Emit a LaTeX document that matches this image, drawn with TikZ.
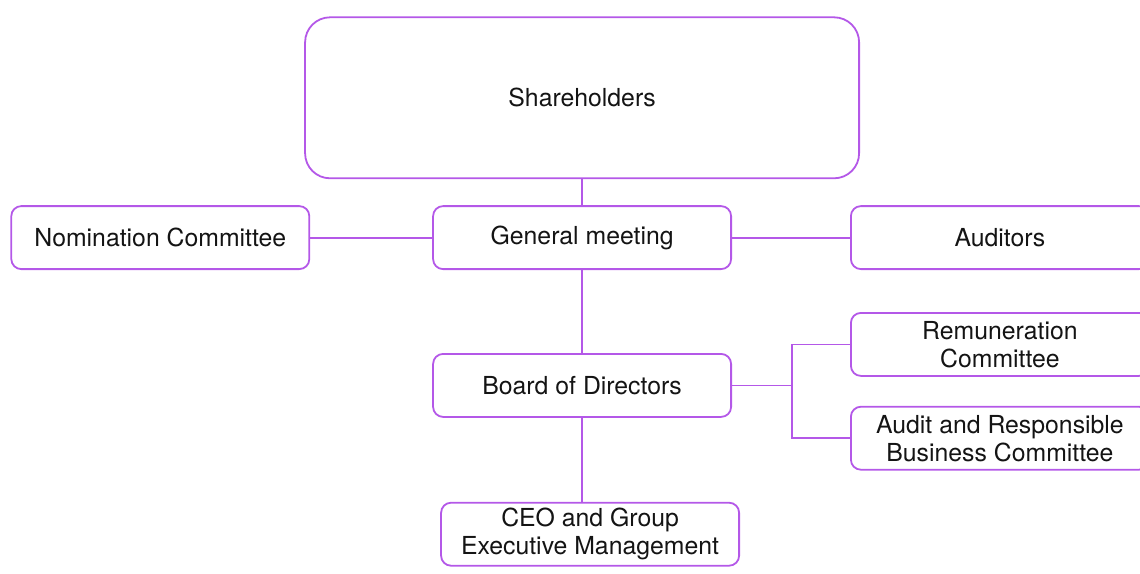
\documentclass[tikz,border=0pt]{standalone}
\usepackage{fontspec}
\setmainfont{TeX Gyre Heros}
\usetikzlibrary{positioning,calc}
\definecolor{orgline}{RGB}{180,88,232}
\definecolor{orgtext}{RGB}{20,20,20}

\begin{document}
\begin{tikzpicture}[
  every matrix/.style={ampersand replacement=\&,column sep=-3pt,row sep=13pt,inner sep=0pt},
  unit/.style={anchor=center,draw=orgline,line width=0.9pt,rounded corners=5pt,fill=white,
    minimum width=149pt,minimum height=31.5pt,inner sep=2pt},
  owner/.style={unit,rounded corners=12.5pt,minimum width=277pt,minimum height=80.5pt},
  link/.style={draw=orgline,line width=0.9pt},
  every node/.style={align=center,text=orgtext,font=\fontsize{12.4}{14}\selectfont}]

    \useasboundingbox (0,0) rectangle (570pt,-286.5pt);

    \matrix[anchor=north west] at (5pt,-8pt) {
        \& \node[owner](share){Shareholders}; \\

        \node[unit](nom){Nomination Committee};
            \& \node[unit](meeting){General meeting};
            \&[-2pt] \node[unit](auditors){Auditors}; \\[28.5pt]

        \& \node[unit](board){Board of Directors}; \\[29pt]

        \& \node[unit,xshift=4pt](ceo){CEO and Group\\Executive Management}; \\
    };

    \node[unit,below=21pt of auditors](pay){Remuneration\\Committee};
    \node[unit,below=14.5pt of pay](audit){Audit and Responsible\\Business Committee};

    \draw[link](share) -- (meeting);
    \draw[link](nom) -- (meeting);
    \draw[link](meeting) -- (auditors);
    \draw[link](meeting) -- (board);
    \draw[link](board) -- (board |- ceo.north);

    \coordinate[right=30pt of board.east](split);
    \draw[link](board) -- (split);
    \draw[link](pay) -| (split) |- (audit);
\end{tikzpicture}
\end{document}
